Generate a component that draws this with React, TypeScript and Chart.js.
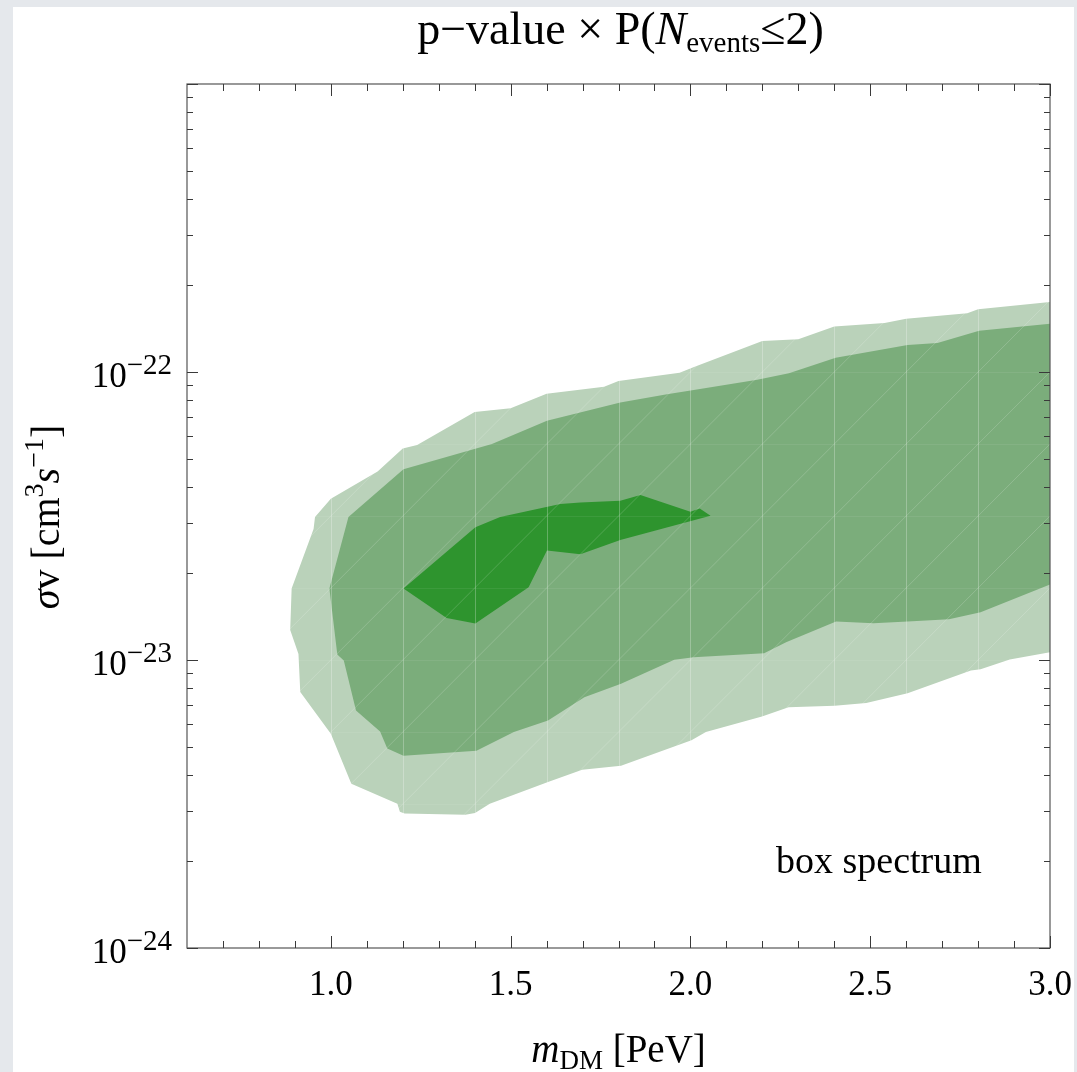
import React, { useEffect, useRef } from 'react';
import { Chart, registerables } from 'chart.js';

Chart.register(...registerables);

// ---------- data ----------
const outerX = [3.0, 2.80, 2.77, 2.60, 2.54, 2.40, 2.30, 2.20, 2.01, 1.97, 1.80, 1.76, 1.60, 1.50, 1.40, 1.24, 1.20, 1.13, 1.00, 0.956, 0.952, 0.891, 0.887, 0.910, 0.915, 1.00, 1.057, 1.185, 1.192, 1.205, 1.374, 1.401, 1.442, 1.604, 1.699, 1.807, 2.003, 2.043, 2.199, 2.273, 2.401, 2.489, 2.604, 2.78, 2.807, 2.888, 3.0];
const outerY = [1.75e-22, 1.65e-22, 1.60e-22, 1.53e-22, 1.48e-22, 1.44e-22, 1.30e-22, 1.28e-22, 1.04e-22, 9.95e-23, 9.31e-23, 8.89e-23, 8.41e-23, 7.48e-23, 7.27e-23, 5.58e-23, 5.42e-23, 4.51e-23, 3.63e-23, 3.14e-23, 2.85e-23, 1.77e-23, 1.27e-23, 1.05e-23, 7.74e-24, 5.55e-24, 3.72e-24, 3.17e-24, 2.97e-24, 2.93e-24, 2.90e-24, 2.94e-24, 3.17e-24, 3.77e-24, 4.16e-24, 4.29e-24, 5.26e-24, 5.62e-24, 6.37e-24, 6.86e-24, 6.94e-24, 7.09e-24, 7.67e-24, 9.20e-24, 9.29e-24, 1.004e-23, 1.064e-23];

const middleX = [3.0, 2.803, 2.687, 2.604, 2.404, 2.274, 2.186, 2.005, 1.935, 1.805, 1.601, 1.448, 1.202, 1.049, 0.996, 1.018, 1.036, 1.07, 1.137, 1.157, 1.202, 1.405, 1.509, 1.604, 1.705, 1.807, 1.955, 2.009, 2.205, 2.266, 2.405, 2.509, 2.604, 2.719, 2.807, 3.0];
const middleY = [1.47e-22, 1.39e-22, 1.26e-22, 1.24e-22, 1.12e-22, 9.90e-23, 9.40e-23, 8.64e-23, 8.37e-23, 7.83e-23, 6.77e-23, 5.62e-23, 4.60e-23, 3.14e-23, 1.77e-23, 1.045e-23, 9.96e-24, 6.68e-24, 5.65e-24, 4.93e-24, 4.65e-24, 4.84e-24, 5.62e-24, 6.17e-24, 7.43e-24, 8.27e-24, 1.002e-23, 1.023e-23, 1.056e-23, 1.153e-23, 1.360e-23, 1.342e-23, 1.360e-23, 1.385e-23, 1.464e-23, 1.827e-23];

const innerX = [1.202, 1.402, 1.471, 1.638, 1.694, 1.805, 1.861, 2.0, 2.026, 2.056, 1.986, 1.805, 1.694, 1.601, 1.55, 1.402, 1.322];
const innerY = [1.77e-23, 2.89e-23, 3.14e-23, 3.48e-23, 3.52e-23, 3.57e-23, 3.74e-23, 3.27e-23, 3.36e-23, 3.17e-23, 3.00e-23, 2.61e-23, 2.33e-23, 2.40e-23, 1.79e-23, 1.34e-23, 1.40e-23];

// axis ticks
const xMajorTicks = [1.0, 1.5, 2.0, 2.5, 3.0];
const xTickLabels = ['1.0', '1.5', '2.0', '2.5', '3.0'];
const xMinorTicks = [0.7, 0.8, 0.9, 1.1, 1.2, 1.3, 1.4, 1.6, 1.7, 1.8, 1.9, 2.1, 2.2, 2.3, 2.4, 2.6, 2.7, 2.8, 2.9];
const yMajorExps = [-24, -23, -22, -21];
const yLabelExps = [-24, -23, -22];
const yMinorMantissas = [2, 3, 4, 5, 6, 7, 8, 9];

// faint mesh of the contour rendering
const meshX = [0.6, 0.8, 1.0, 1.2, 1.4, 1.6, 1.8, 2.0, 2.2, 2.4, 2.6, 2.8, 3.0];
const meshLogY = [-24, -23.75, -23.5, -23.25, -23, -22.75, -22.5, -22.25, -22, -21.75, -21.5, -21.25, -21];

const SERIF = '"Liberation Serif", "Times New Roman", serif';
const fnt = (size: number, italic = false) => `${italic ? 'italic ' : ''}${size}px ${SERIF}`;

type Seg = { t: string; f: string; dy?: number };

function drawSegs(ctx: CanvasRenderingContext2D, segs: Seg[], x: number, y: number, align: 'left' | 'center' | 'right') {
  let total = 0;
  const widths: number[] = [];
  for (const s of segs) {
    ctx.font = s.f;
    const w = ctx.measureText(s.t).width;
    widths.push(w);
    total += w;
  }
  let cx = align === 'center' ? x - total / 2 : align === 'right' ? x - total : x;
  ctx.textAlign = 'left';
  ctx.textBaseline = 'alphabetic';
  segs.forEach((s, i) => {
    ctx.font = s.f;
    ctx.fillText(s.t, cx, y + (s.dy || 0));
    cx += widths[i];
  });
}

const framePlugin = {
  id: 'frameAxes',
  afterDatasetsDraw(chart: any) {
    const { ctx, chartArea: a, scales } = chart;
    const xs = scales.x;
    const ys = scales.y;
    ctx.save();
    ctx.beginPath();
    ctx.rect(a.left, a.top, a.right - a.left, a.bottom - a.top);
    ctx.clip();
    ctx.lineWidth = 1;
    // vertical mesh
    ctx.strokeStyle = 'rgba(255,255,255,0.26)';
    for (const v of meshX) {
      const px = Math.round(xs.getPixelForValue(v)) + 0.5;
      ctx.beginPath();
      ctx.moveTo(px, a.top);
      ctx.lineTo(px, a.bottom);
      ctx.stroke();
    }
    // horizontal mesh
    ctx.strokeStyle = 'rgba(255,255,255,0.07)';
    for (const e of meshLogY) {
      const py = Math.round(ys.getPixelForValue(Math.pow(10, e))) + 0.5;
      ctx.beginPath();
      ctx.moveTo(a.left, py);
      ctx.lineTo(a.right, py);
      ctx.stroke();
    }
    // diagonals
    ctx.strokeStyle = 'rgba(255,255,255,0.22)';
    ctx.lineWidth = 0.8;
    for (let i = 0; i < meshX.length - 1; i++) {
      for (let j = 0; j < meshLogY.length - 1; j++) {
        ctx.beginPath();
        ctx.moveTo(xs.getPixelForValue(meshX[i]), ys.getPixelForValue(Math.pow(10, meshLogY[j])));
        ctx.lineTo(xs.getPixelForValue(meshX[i + 1]), ys.getPixelForValue(Math.pow(10, meshLogY[j + 1])));
        ctx.stroke();
      }
    }
    ctx.restore();
  },
  afterDraw(chart: any) {
    const { ctx, chartArea: a, scales } = chart;
    const xs = scales.x;
    const ys = scales.y;
    ctx.save();
    // frame
    ctx.strokeStyle = '#555555';
    ctx.lineWidth = 1.2;
    ctx.strokeRect(a.left, a.top, a.right - a.left, a.bottom - a.top);
    // ticks
    ctx.strokeStyle = '#3a3a3a';
    ctx.lineWidth = 1;
    const tickX = (v: number, len: number) => {
      const px = Math.round(xs.getPixelForValue(v)) + 0.5;
      ctx.beginPath();
      ctx.moveTo(px, a.bottom);
      ctx.lineTo(px, a.bottom - len);
      ctx.moveTo(px, a.top);
      ctx.lineTo(px, a.top + len);
      ctx.stroke();
    };
    xMajorTicks.forEach((v) => tickX(v, 12));
    xMinorTicks.forEach((v) => tickX(v, 7));
    const tickY = (v: number, len: number) => {
      const py = Math.round(ys.getPixelForValue(v)) + 0.5;
      ctx.beginPath();
      ctx.moveTo(a.left, py);
      ctx.lineTo(a.left + len, py);
      ctx.moveTo(a.right, py);
      ctx.lineTo(a.right - len, py);
      ctx.stroke();
    };
    yMajorExps.forEach((e) => tickY(Math.pow(10, e), 11));
    for (let e = -24; e < -21; e++) {
      yMinorMantissas.forEach((m) => tickY(m * Math.pow(10, e), 6));
    }
    // labels
    ctx.fillStyle = '#000';
    xMajorTicks.forEach((v, i) => {
      drawSegs(ctx, [{ t: xTickLabels[i], f: fnt(35) }], xs.getPixelForValue(v), a.bottom + 47, 'center');
    });
    yLabelExps.forEach((e) => {
      const py = ys.getPixelForValue(Math.pow(10, e));
      drawSegs(ctx, [
        { t: '10', f: fnt(35) },
        { t: '\u2212' + String(-e), f: fnt(29), dy: -13 },
      ], a.left - 15, py + 15, 'right');
    });
    // title
    drawSegs(ctx, [
      { t: 'p\u2212value \u00d7 P(', f: fnt(46) },
      { t: 'N', f: fnt(46, true) },
      { t: 'events', f: fnt(29), dy: 8 },
      { t: '\u22642)', f: fnt(46) },
    ], (a.left + a.right) / 2 + 2, 37, 'center');
    // x axis title
    drawSegs(ctx, [
      { t: 'm', f: fnt(39, true) },
      { t: 'DM', f: fnt(27), dy: 7 },
      { t: ' [PeV]', f: fnt(39) },
    ], (a.left + a.right) / 2, 1055, 'center');
    // y axis title
    ctx.save();
    ctx.translate(46, 510);
    ctx.rotate(-Math.PI / 2);
    drawSegs(ctx, [
      { t: '\u03c3', f: fnt(40, true) },
      { t: 'v [cm', f: fnt(40) },
      { t: '3', f: fnt(28), dy: -16 },
      { t: 's', f: fnt(40, true) },
      { t: '\u22121', f: fnt(28), dy: -16 },
      { t: ']', f: fnt(40) },
    ], 0, 0, 'center');
    ctx.restore();
    // annotation
    drawSegs(ctx, [{ t: 'box spectrum', f: fnt(38) }], 763, 866, 'left');
    ctx.restore();
  },
};

const toPts = (xs: number[], ys: number[]) => xs.map((x, i) => ({ x, y: ys[i] }));

export default function App() {
  const ref = useRef<HTMLCanvasElement>(null);
  useEffect(() => {
    const canvas = ref.current;
    if (!canvas) return;
    const base = { fill: 'shape' as const, borderWidth: 0, borderColor: 'rgba(0,0,0,0)', pointRadius: 0, tension: 0 };
    const chart = new Chart(canvas, {
      type: 'line',
      data: {
        datasets: [
          { ...base, label: 'inner', data: toPts(innerX, innerY), backgroundColor: '#2e942e' },
          { ...base, label: 'middle', data: toPts(middleX, middleY), backgroundColor: '#7bad7b' },
          { ...base, label: 'outer', data: toPts(outerX, outerY), backgroundColor: '#bad2ba' },
        ],
      },
      options: {
        responsive: false,
        animation: false,
        devicePixelRatio: 1,
        events: [],
        layout: { padding: { left: 174, top: 77, right: 24, bottom: 124 } },
        plugins: { legend: { display: false }, tooltip: { enabled: false }, title: { display: false } },
        scales: {
          x: { type: 'linear', min: 0.6, max: 3.0, display: false },
          y: { type: 'logarithmic', min: 1e-24, max: 1e-21, display: false },
        },
      },
      plugins: [framePlugin],
    } as any);
    return () => chart.destroy();
  }, []);
  return (
    <div style={{ position: 'fixed', left: 0, top: 0, width: 1077, height: 1072, background: '#e5e8ec' }}>
      <div style={{ position: 'absolute', left: 13, top: 7, width: 1061, height: 1065, background: '#ffffff' }}>
        <canvas ref={ref} width={1061} height={1065} style={{ display: 'block', width: 1061, height: 1065 }} />
      </div>
    </div>
  );
}
